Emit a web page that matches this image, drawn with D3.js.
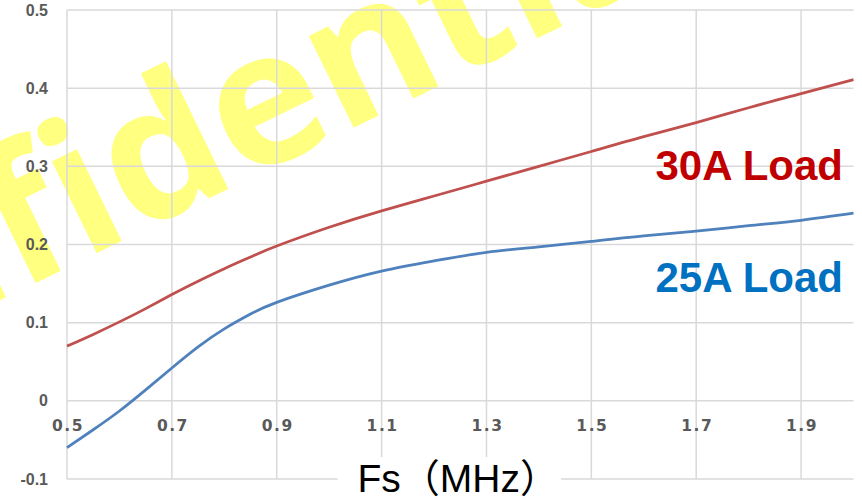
<!DOCTYPE html>
<html>
<head>
<meta charset="utf-8">
<script src="https://cdn.jsdelivr.net/npm/d3@7"></script>
<style>
  body { margin: 0; background: #fff; }
  svg { display: block; }
</style>
</head>
<body>
<div id="chart"></div>
<script>
// Ripple vs switching frequency, two load currents
const fsValues = [0.5, 0.55, 0.6, 0.65, 0.7, 0.75, 0.8, 0.85, 0.9, 1.0, 1.1, 1.2, 1.3, 1.4, 1.5, 1.6, 1.7, 1.8, 1.9, 2.0];
const load30A = [0.070, 0.085, 0.101, 0.118, 0.136, 0.153, 0.169, 0.184, 0.198, 0.222, 0.243, 0.262, 0.281, 0.300, 0.319, 0.338, 0.356, 0.375, 0.393, 0.411];
const load25A = [-0.060, -0.037, -0.013, 0.014, 0.042, 0.069, 0.092, 0.111, 0.126, 0.148, 0.166, 0.179, 0.190, 0.197, 0.204, 0.211, 0.217, 0.224, 0.231, 0.240];

const yTicks = [-0.1, 0, 0.1, 0.2, 0.3, 0.4, 0.5];
const xTicks = [0.5, 0.7, 0.9, 1.1, 1.3, 1.5, 1.7, 1.9];

const seriesNames = ['30A Load', '25A Load'];
const axisTitle = 'Fs（MHz）';
const watermark = 'Confidential';

const width = 862;
const height = 500;

const svg = d3.select('#chart')
  .append('svg')
  .attr('width', width)
  .attr('height', height);

const x = d3.scaleLinear().domain([0.5, 2.0]).range([67, 853.5]);
const y = d3.scaleLinear().domain([-0.1, 0.5]).range([479, 10]);

// Watermark sits behind everything
svg.append('text')
  .attr('transform', 'translate(-303,448) rotate(-26)')
  .style('font-family', '"Open Sans", "Noto Sans", sans-serif')
  .style('font-weight', '700')
  .style('font-size', '187px')
  .style('fill', '#ffff80')
  .text(watermark);

// Grid
const grid = svg.append('g')
  .attr('stroke', '#d9d9d9')
  .attr('stroke-width', 1.5);

grid.selectAll('.h')
  .data(yTicks)
  .join('line')
  .attr('x1', x(0.5))
  .attr('x2', x(2.0))
  .attr('y1', d => y(d))
  .attr('y2', d => y(d));

grid.selectAll('.v')
  .data(xTicks)
  .join('line')
  .attr('x1', d => x(d))
  .attr('x2', d => x(d))
  .attr('y1', y(0.5))
  .attr('y2', y(-0.1));

// Y labels
svg.append('g')
  .selectAll('text')
  .data(yTicks)
  .join('text')
  .attr('x', 48)
  .attr('y', d => y(d))
  .attr('dy', '0.35em')
  .attr('text-anchor', 'end')
  .style('font-family', '"Liberation Sans", Arial, sans-serif')
  .style('font-weight', '700')
  .style('font-size', '16px')
  .style('fill', '#595959')
  .text(d => d3.format('.1f')(d).replace('0.0', '0').replace('−', '-'));

// X labels, sitting just under the zero line
svg.append('g')
  .selectAll('text')
  .data(xTicks)
  .join('text')
  .attr('x', d => x(d) + 1)
  .attr('y', y(0) + 25)
  .attr('dy', '0.35em')
  .attr('text-anchor', 'middle')
  .style('font-family', '"DejaVu Sans", sans-serif')
  .style('font-weight', '700')
  .style('font-size', '15.5px')
  .style('letter-spacing', '1.5px')
  .style('fill', '#595959')
  .text(d => d.toFixed(1));

// Curves
const line = d3.line()
  .x((d, i) => x(fsValues[i]))
  .y(d => y(d))
  .curve(d3.curveNatural);

svg.append('path')
  .datum(load30A)
  .attr('d', line)
  .attr('fill', 'none')
  .attr('stroke', '#c0504d')
  .attr('stroke-width', 2.75);

svg.append('path')
  .datum(load25A)
  .attr('d', line)
  .attr('fill', 'none')
  .attr('stroke', '#4f81bd')
  .attr('stroke-width', 2.75);

// Series labels
const labelColours = ['#c00000', '#0070c0'];
const labelY = [180, 292];
svg.append('g')
  .selectAll('text')
  .data(seriesNames)
  .join('text')
  .attr('x', 843)
  .attr('y', (d, i) => labelY[i])
  .attr('text-anchor', 'end')
  .style('font-family', '"Liberation Sans", Arial, sans-serif')
  .style('font-weight', '700')
  .style('font-size', '42px')
  .style('fill', (d, i) => labelColours[i])
  .text(d => d);

// Axis title on a white patch
const titleG = svg.append('g');
const titleRect = titleG.append('rect').attr('fill', '#fff');
const title = titleG.append('text')
  .attr('x', (x(0.5) + x(2.0)) / 2 - 2)
  .attr('y', 492)
  .attr('text-anchor', 'middle')
  .style('font-family', '"Liberation Sans", Arial, "Noto Sans CJK SC", sans-serif')
  .style('font-size', '39px')
  .style('fill', '#000')
  .text(axisTitle);
const bb = title.node().getBBox();
titleRect
  .attr('x', bb.x - 20)
  .attr('y', bb.y)
  .attr('width', bb.width + 22)
  .attr('height', bb.height);
</script>
</body>
</html>
